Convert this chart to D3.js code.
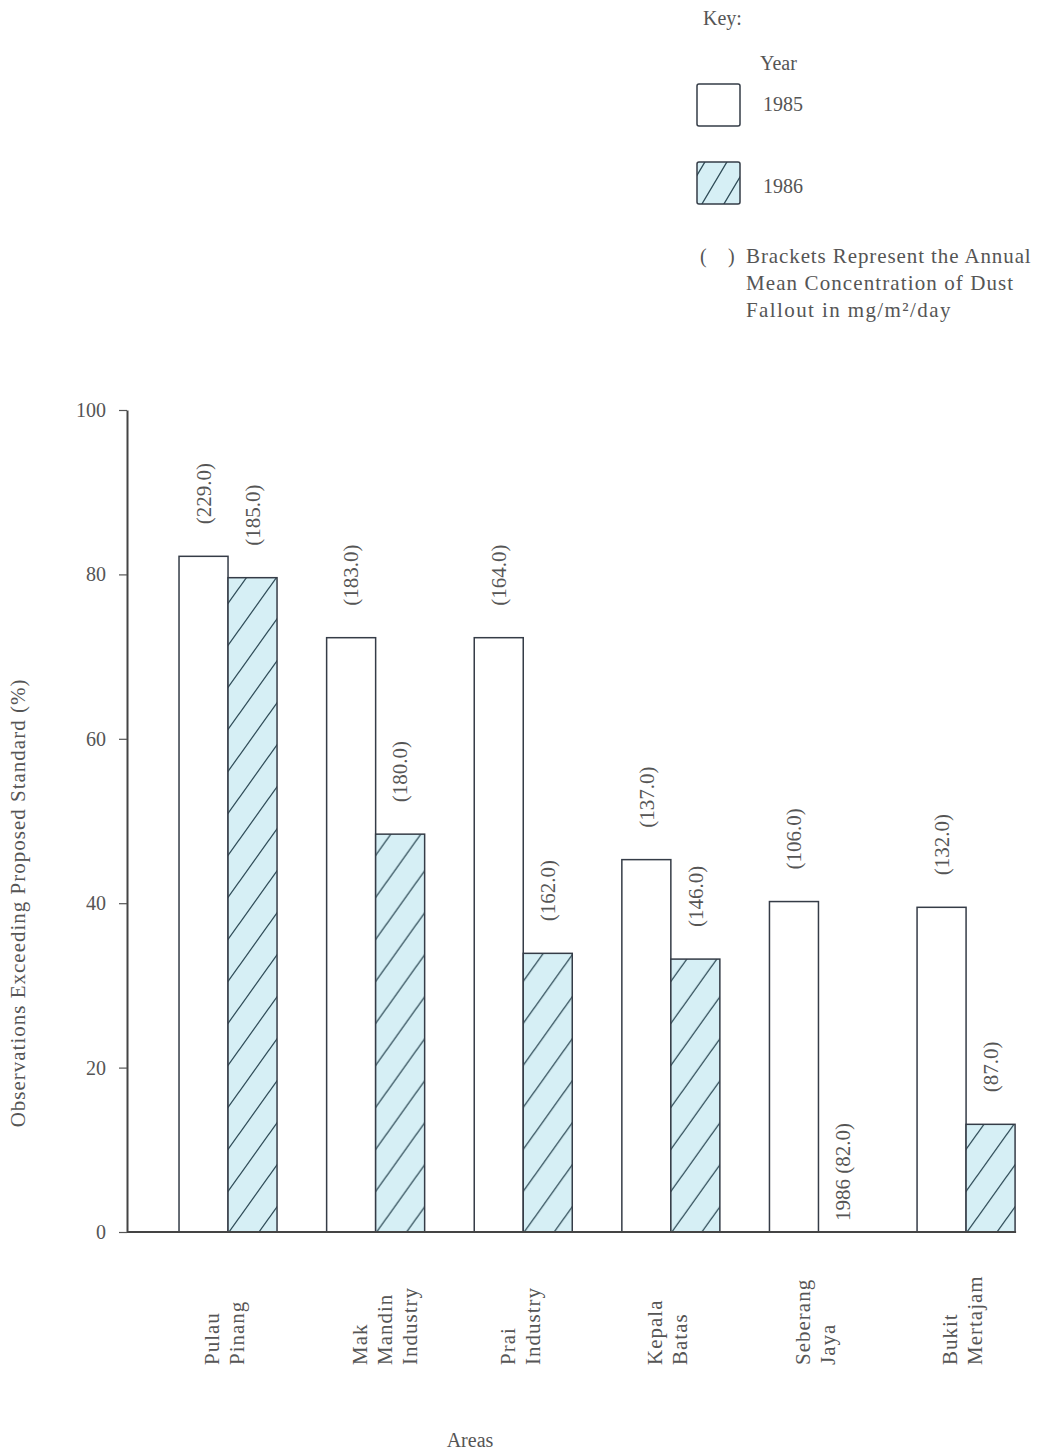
<!DOCTYPE html>
<html><head><meta charset="utf-8">
<script src="https://cdn.jsdelivr.net/npm/d3@7"></script>
<style>
body{margin:0;background:#fff}
text{font-family:"Liberation Serif","DejaVu Serif",serif;fill:#555}
</style>
</head><body><svg id="c" width="1039" height="1453"></svg>
<script>
// ---- data ----
const areas = [["Pulau","Pinang"],["Mak","Mandin","Industry"],["Prai","Industry"],["Kepala","Batas"],["Seberang","Jaya"],["Bukit","Mertajam"]];
const years = ["1985","1986"];
const values1985 = [82.2,72.3,72.3,45.3,40.2,39.5];
const values1986 = [79.6,48.4,33.9,33.2,0,13.1];
const labels1985 = ["(229.0)","(183.0)","(164.0)","(137.0)","(106.0)","(132.0)"];
const labels1986 = ["(185.0)","(180.0)","(162.0)","(146.0)","1986 (82.0)","(87.0)"];
const yTicks = [0,20,40,60,80,100];
const yTitle = "Observations Exceeding Proposed Standard (%)";
const xTitle = "Areas";
const keyTitle = "Key:";
const legendTitle = "Year";
const noteBrackets = ["(", ")"];
const noteLines = ["Brackets Represent the Annual","Mean Concentration of Dust","Fallout in mg/m²/day"];

const svg = d3.select("#c");
const ids = areas.map((a,i)=>i);
const y = d3.scaleLinear([0,100],[1232,410]);
const x0 = d3.scaleBand(ids,[149.5,1044.6]).paddingInner(0.336).paddingOuter(0.2);
const x1 = d3.scaleBand(years,[0,x0.bandwidth()]);

const defs = svg.append("defs");
function hatch(id,w,h,tx,ty){
  const p = defs.append("pattern").attr("id",id).attr("patternUnits","userSpaceOnUse")
    .attr("width",w).attr("height",h).attr("patternTransform",`translate(${tx},${ty})`);
  p.append("rect").attr("width",w).attr("height",h).attr("fill","#d6eff5");
  const sx=w/10, sy=h/10;
  p.append("path").attr("d",`M0,${h}L${w},0M${-sx},${sy}L${sx},${-sy}M${w-sx},${h+sy}L${w+sx},${h-sy}`)
    .attr("stroke","#2e4b57").attr("stroke-width",1.3).attr("fill","none");
}
hatch("hatch",30,42,0,0);
hatch("hatchLeg",22,37,700,168);

const fills = {"1985":"#fff","1986":"url(#hatch)"};
const legFills = {"1985":"#fff","1986":"url(#hatchLeg)"};
const data = ids.map(i=>({i, vals:[{year:"1985",v:values1985[i],lab:labels1985[i]},{year:"1986",v:values1986[i],lab:labels1986[i]}]}));

const g = svg.append("g").selectAll("g").data(data).join("g")
  .attr("transform",d=>`translate(${x0(d.i)},0)`);
g.selectAll("rect").data(d=>d.vals.filter(e=>e.v>0)).join("rect")
  .attr("x",e=>x1(e.year)).attr("width",x1.bandwidth())
  .attr("y",e=>y(e.v)).attr("height",e=>y(0)-y(e.v))
  .attr("fill",e=>fills[e.year]).attr("stroke","#353c47").attr("stroke-width",1.5);
g.selectAll("text.val").data(d=>d.vals).join("text").attr("class","val")
  .attr("transform",e=>`translate(${x1(e.year)+x1.bandwidth()/2},${y(e.v)-(e.v>0?32:11)}) rotate(-90)`)
  .attr("dy","0.35em").attr("font-size",21).text(e=>e.lab);

// axes
const ax = svg.append("g").attr("transform","translate(127,0)")
  .call(d3.axisLeft(y).tickValues(yTicks).tickSize(8).tickSizeOuter(0).tickPadding(13));
ax.select(".domain").attr("stroke","#444").attr("stroke-width",2);
ax.selectAll(".tick line").attr("stroke","#555").attr("stroke-width",1.2);
ax.selectAll(".tick text").attr("font-size",20).attr("fill","#555").attr("font-family",null);
svg.append("line").attr("x1",127).attr("x2",x0(ids[ids.length-1])+x0.bandwidth()+1)
  .attr("y1",y(0)).attr("y2",y(0)).attr("stroke","#444").attr("stroke-width",2);

// x labels
const xl = svg.append("g").selectAll("g").data(data).join("g")
  .attr("transform",d=>`translate(${x0(d.i)+33},1365)`);
xl.selectAll("text").data(d=>areas[d.i].map((t,k)=>({t,k}))).join("text")
  .attr("transform",e=>`translate(${e.k*25},0) rotate(-90)`)
  .attr("dy","0.35em").attr("font-size",21).attr("letter-spacing",1).text(e=>e.t);

svg.append("text").attr("x",470).attr("y",1447).attr("text-anchor","middle").attr("font-size",20).text(xTitle);
svg.append("text").attr("transform","translate(18,903) rotate(-90)").attr("dy","0.35em")
  .attr("text-anchor","middle").attr("font-size",21).attr("letter-spacing",1).text(yTitle);

// legend
svg.append("text").attr("x",703).attr("y",25).attr("font-size",20).text(keyTitle);
svg.append("text").attr("x",760).attr("y",70).attr("font-size",20).text(legendTitle);
const leg = svg.append("g").selectAll("g").data(years).join("g")
  .attr("transform",(d,i)=>`translate(697,${84+i*78})`);
leg.append("rect").attr("width",43).attr("height",42).attr("rx",2)
  .attr("fill",d=>legFills[d]).attr("stroke","#353c47").attr("stroke-width",1.5);
leg.append("text").attr("x",66).attr("y",(d,i)=>27+i*4).attr("font-size",20).text(d=>d);
svg.append("g").selectAll("text").data(noteBrackets).join("text")
  .attr("x",(d,i)=>700+i*28).attr("y",263).attr("font-size",20).text(d=>d);
svg.append("g").selectAll("text").data(noteLines).join("text")
  .attr("x",746).attr("y",(d,i)=>263+i*27).attr("font-size",21).attr("letter-spacing",(d,i)=>[0.9,1.1,1.4][i]).text(d=>d);
</script></body></html>
